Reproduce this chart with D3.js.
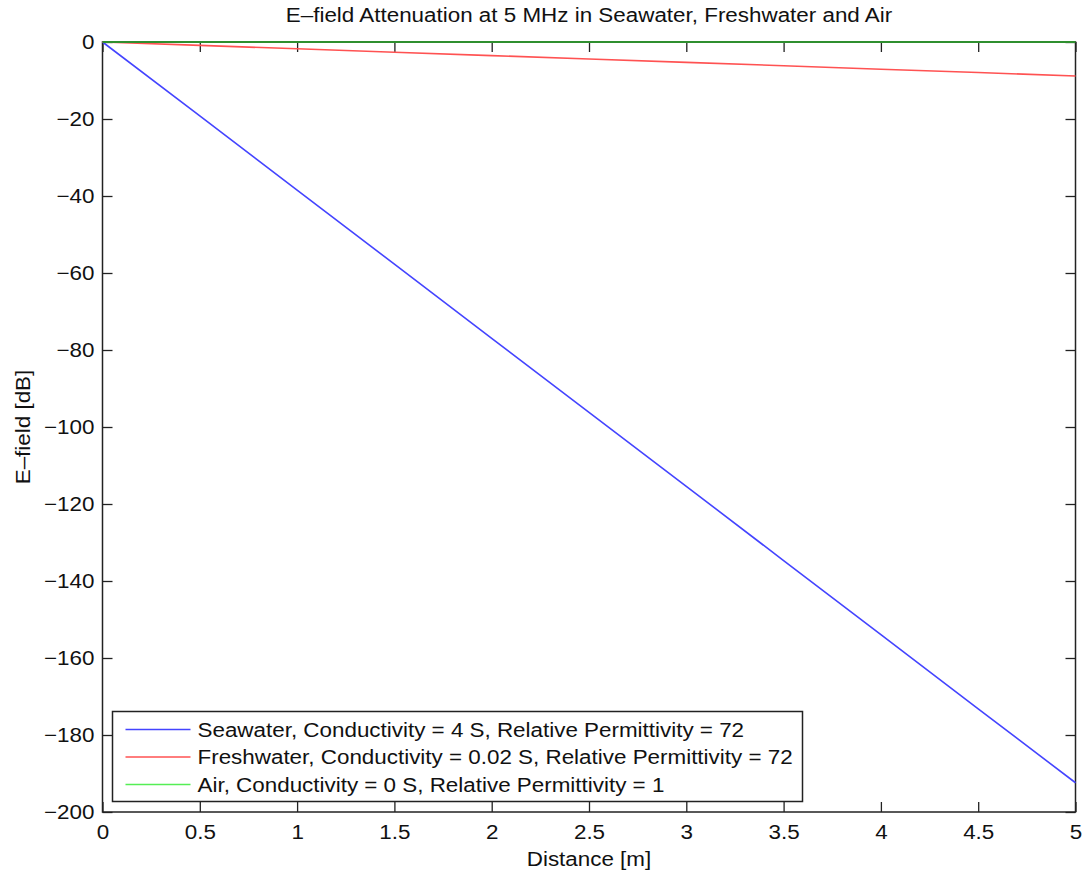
<!DOCTYPE html>
<html>
<head>
<meta charset="utf-8">
<script src="https://cdn.jsdelivr.net/npm/d3@7"></script>
<style>
  html, body { margin: 0; padding: 0; background: #fff; }
  svg { display: block; font-family: "Liberation Sans", Arial, Helvetica, sans-serif; }
</style>
</head>
<body>
<svg id="chart" width="1086" height="874"></svg>
<script>
// Distance samples in metres
const distance = [0, 0.5, 1, 1.5, 2, 2.5, 3, 3.5, 4, 4.5, 5];

// E-field level in dB for each medium at the distances above
const seawater   = [0, -19.2, -38.5, -57.7, -77.0, -96.2, -115.4, -134.7, -153.9, -173.2, -192.4];
const freshwater = [0, -0.88, -1.76, -2.65, -3.53, -4.41, -5.29, -6.17, -7.06, -7.94, -8.82];
const air        = [0, 0, 0, 0, 0, 0, 0, 0, 0, 0, 0];

const seriesNames = [
  "Seawater, Conductivity = 4 S, Relative Permittivity = 72",
  "Freshwater, Conductivity = 0.02 S, Relative Permittivity = 72",
  "Air, Conductivity = 0 S, Relative Permittivity = 1"
];
const seriesColors = ["#4444ff", "#ff5252", "#55ee55"];

const xTicks = [0, 0.5, 1, 1.5, 2, 2.5, 3, 3.5, 4, 4.5, 5];
const yTicks = [0, -20, -40, -60, -80, -100, -120, -140, -160, -180, -200];

const titleText = "E\u2013field Attenuation at 5 MHz in Seawater, Freshwater and Air";
const xLabel = "Distance [m]";
const yLabel = "E\u2013field [dB]";

const plot = { left: 102.5, right: 1075.5, top: 42, bottom: 812 };
const svg = d3.select("#chart");

const x = d3.scaleLinear().domain([0, 5]).range([plot.left, plot.right]);
const y = d3.scaleLinear().domain([-200, 0]).range([plot.bottom, plot.top]);

const fmt = v => (v < 0 ? "\u2212" + Math.abs(v) : String(v));
const tickLen = 10;
const fontSize = "20px";
const textWiden = 1.12;   // the typeface is set slightly wide

// Axes with inward ticks on all four sides (box style)
const axisColor = "#222";
function styleAxis(g) {
  g.select(".domain").remove();
  g.selectAll(".tick line").attr("stroke", axisColor).attr("stroke-width", 1.3);
  g.selectAll(".tick text").attr("fill", "#111").attr("font-family", null).style("font-size", fontSize);
}

svg.append("g").attr("transform", `translate(0,${plot.bottom})`)
  .call(d3.axisBottom(x).tickValues(xTicks).tickSize(-tickLen).tickPadding(13).tickFormat(d => String(d)))
  .call(styleAxis);

svg.append("g").attr("transform", `translate(0,${plot.top})`)
  .call(d3.axisTop(x).tickValues(xTicks).tickSize(-tickLen).tickFormat(""))
  .call(styleAxis);

svg.append("g").attr("transform", `translate(${plot.left},0)`)
  .call(d3.axisLeft(y).tickValues(yTicks).tickSize(-tickLen).tickPadding(8).tickFormat(fmt))
  .call(styleAxis);

svg.append("g").attr("transform", `translate(${plot.right},0)`)
  .call(d3.axisRight(y).tickValues(yTicks).tickSize(-tickLen).tickFormat(""))
  .call(styleAxis);

svg.selectAll("g").attr("font-family", null).attr("font-size", null);

// Plot frame
svg.append("rect")
  .attr("x", plot.left).attr("y", plot.top)
  .attr("width", plot.right - plot.left).attr("height", plot.bottom - plot.top)
  .attr("fill", "none").attr("stroke", axisColor).attr("stroke-width", 1.5);

// Data lines
const line = d3.line().x((d, i) => x(distance[i])).y(d => y(d));
const allSeries = [seawater, freshwater, air];
allSeries.forEach((vals, k) => {
  svg.append("path")
    .datum(vals)
    .attr("d", line)
    .attr("fill", "none")
    .attr("stroke", k === 2 ? "#2f8f2f" : seriesColors[k])
    .attr("stroke-width", k === 2 ? 2 : 1.6);
});

// Legend
const lg = { x: 112.5, y: 711.5, w: 690, h: 90 };
svg.append("rect")
  .attr("x", lg.x).attr("y", lg.y).attr("width", lg.w).attr("height", lg.h)
  .attr("fill", "#fff").attr("stroke", axisColor).attr("stroke-width", 1.5);
seriesNames.forEach((name, k) => {
  const cy = lg.y + 18 + k * 27.5;
  svg.append("line")
    .attr("x1", lg.x + 13).attr("x2", lg.x + 78)
    .attr("y1", cy).attr("y2", cy)
    .attr("stroke", seriesColors[k]).attr("stroke-width", 1.6);
  svg.append("text")
    .attr("x", lg.x + 85).attr("y", cy).attr("dy", "0.36em")
    .style("font-size", fontSize).attr("fill", "#111")
    .text(name);
});

// Titles
svg.append("text")
  .attr("x", (plot.left + plot.right) / 2).attr("y", 22)
  .attr("text-anchor", "middle").style("font-size", fontSize).attr("fill", "#111")
  .text(titleText);

svg.append("text")
  .attr("x", (plot.left + plot.right) / 2).attr("y", 866)
  .attr("text-anchor", "middle").style("font-size", fontSize).attr("fill", "#111")
  .text(xLabel);

svg.append("text")
  .attr("transform", `translate(30,427) rotate(-90)`)
  .attr("text-anchor", "middle").style("font-size", fontSize).attr("fill", "#111")
  .text(yLabel);

// Widen every label a little to the wide face used in the figure
svg.selectAll("text").each(function () {
  const n = this.getComputedTextLength();
  if (n > 0) {
    d3.select(this).attr("textLength", n * textWiden).attr("lengthAdjust", "spacingAndGlyphs");
  }
});
</script>
</body>
</html>
